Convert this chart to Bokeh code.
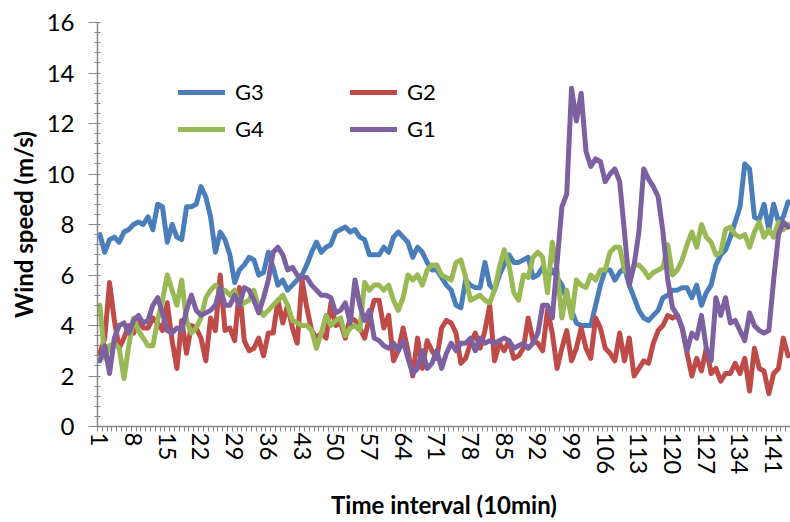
from bokeh.plotting import figure
from bokeh.models import Range1d, FixedTicker, SingleIntervalTicker, Legend, LegendItem
from bokeh.embed import file_html
from bokeh.resources import INLINE

# ---------------- data ----------------
time_idx = list(range(1, 145))

g3 = [7.6, 6.9, 7.4, 7.5, 7.3, 7.7, 7.8, 8.0, 8.1, 8.0, 8.3, 7.8, 8.8, 8.7, 7.3, 8.0, 7.5, 7.4, 8.7, 8.7,
      8.8, 9.5, 9.1, 8.3, 6.9, 7.7, 7.4, 6.8, 5.7, 6.2, 6.4, 6.7, 6.6, 6.0, 6.1, 6.9, 6.3, 5.6, 5.8, 5.4,
      5.6, 5.8, 6.0, 6.4, 6.9, 7.3, 6.9, 7.1, 7.2, 7.7, 7.8, 7.9, 7.7, 7.8, 7.5, 7.4, 6.8, 6.8, 6.8, 7.1,
      6.9, 7.5, 7.7, 7.5, 7.3, 6.7, 7.1, 6.9, 6.5, 6.2, 6.2, 5.9, 5.6, 5.4, 4.8, 4.7, 5.8, 5.6, 5.5, 5.5,
      6.5, 5.6, 5.4, 6.0, 6.4, 6.8, 6.5, 6.5, 6.6, 6.7, 5.9, 6.0, 6.3, 5.9, 6.2, 5.9, 5.6, 5.0, 4.6, 4.1,
      4.0, 4.0, 4.0, 4.8, 5.6, 6.2, 6.2, 5.8, 6.1, 6.3, 5.6, 5.1, 4.6, 4.3, 4.2, 4.4, 4.6, 5.1, 5.2, 5.4,
      5.4, 5.5, 5.5, 5.1, 5.6, 4.8, 5.3, 5.6, 6.4, 6.8, 7.0, 7.5, 8.1, 8.7, 10.4, 10.2, 8.3, 8.2, 8.8, 7.8,
      8.8, 8.1, 8.3, 8.9]

g2 = [2.9, 3.5, 5.7, 4.2, 3.1, 3.5, 4.0, 3.7, 4.2, 3.9, 3.9, 4.3, 4.1, 3.8, 4.9, 3.4, 2.3, 4.2, 2.9, 4.0,
      3.9, 3.5, 2.6, 4.3, 3.8, 6.0, 3.8, 3.9, 3.4, 5.5, 3.4, 3.0, 3.1, 3.5, 2.8, 3.7, 3.7, 5.0, 4.1, 4.8,
      3.9, 3.3, 5.8, 4.7, 3.8, 3.5, 3.7, 3.5, 4.9, 4.0, 4.1, 3.5, 4.3, 4.2, 3.9, 3.5, 4.3, 5.0, 5.0, 3.9,
      4.4, 2.6, 3.0, 3.9, 3.0, 2.0, 3.5, 2.3, 3.4, 3.0, 2.7, 3.9, 4.2, 4.1, 3.7, 2.5, 2.7, 3.3, 3.7, 3.1,
      3.8, 4.8, 2.6, 3.3, 3.0, 3.4, 2.7, 2.8, 3.1, 4.3, 3.4, 3.3, 3.0, 4.6, 3.7, 2.3, 3.1, 3.8, 2.6, 3.1,
      3.9, 3.1, 2.7, 4.3, 3.9, 3.1, 2.9, 2.6, 3.7, 2.6, 3.5, 2.0, 2.3, 2.6, 2.5, 3.3, 3.8, 4.0, 4.4, 4.3,
      4.4, 3.9, 2.9, 2.0, 2.7, 2.2, 3.1, 2.1, 2.3, 1.8, 2.1, 2.1, 2.5, 2.1, 2.7, 1.4, 3.1, 2.3, 2.2, 1.3,
      2.1, 2.3, 3.5, 2.8]

g4 = [4.8, 2.7, 3.2, 3.3, 3.1, 1.9, 3.2, 4.3, 3.8, 3.5, 3.2, 3.2, 4.2, 5.0, 6.0, 5.4, 4.8, 5.8, 4.2, 3.7,
      3.9, 4.3, 5.1, 5.4, 5.6, 5.4, 5.4, 5.2, 5.4, 4.8, 4.9, 5.0, 5.4, 4.7, 4.4, 4.6, 4.8, 5.0, 5.2, 4.8,
      4.2, 4.1, 4.0, 4.0, 3.8, 3.1, 3.7, 4.4, 4.0, 4.2, 4.3, 3.6, 3.9, 4.0, 3.8, 5.7, 5.4, 5.6, 5.6, 5.4,
      5.6, 5.0, 4.6, 5.1, 6.0, 5.8, 6.0, 5.6, 6.2, 6.4, 6.4, 6.0, 5.9, 5.8, 6.5, 6.6, 5.9, 5.0, 5.1, 5.2,
      5.0, 4.9, 5.4, 6.3, 7.0, 6.4, 5.3, 5.0, 6.0, 5.9, 6.7, 6.9, 6.7, 5.3, 7.3, 6.2, 4.3, 5.4, 4.3, 5.8,
      5.6, 5.5, 6.0, 5.8, 6.2, 6.2, 6.9, 7.1, 7.1, 6.2, 6.0, 6.4, 6.4, 6.2, 5.9, 6.1, 6.2, 6.3, 7.2, 6.0,
      6.2, 6.6, 7.2, 7.7, 7.1, 8.0, 7.5, 7.3, 6.8, 6.9, 7.8, 7.9, 7.6, 7.5, 7.6, 7.1, 7.7, 8.1, 7.5, 7.8,
      7.5, 8.1, 7.8, 8.0]

g1 = [2.6, 3.2, 2.1, 3.5, 4.0, 4.1, 3.7, 4.2, 4.4, 4.1, 4.2, 4.8, 5.1, 4.5, 3.8, 3.7, 3.9, 3.8, 4.6, 5.2,
      4.6, 4.4, 4.5, 4.6, 4.8, 5.5, 4.8, 4.8, 5.2, 4.8, 5.5, 5.4, 5.0, 4.5, 5.1, 5.8, 6.9, 7.1, 6.8, 6.2,
      6.3, 6.0, 5.9, 5.9, 5.6, 5.4, 5.2, 5.2, 5.1, 4.5, 4.6, 4.9, 4.1, 5.8, 4.8, 4.2, 4.6, 3.5, 3.4, 3.2,
      3.1, 3.3, 3.0, 3.4, 2.7, 2.1, 2.3, 3.0, 2.3, 2.5, 3.0, 2.3, 2.9, 3.3, 3.0, 3.3, 3.3, 3.5, 3.0, 3.5,
      3.3, 3.4, 3.3, 3.4, 3.5, 3.4, 3.1, 3.2, 3.3, 3.1, 3.3, 3.7, 4.8, 4.8, 4.3, 6.5, 8.7, 9.2, 13.4, 12.1,
      13.2, 10.9, 10.3, 10.6, 10.5, 9.7, 10.0, 10.2, 9.7, 7.7, 5.6, 6.4, 7.7, 10.2, 9.8, 9.5, 9.1, 7.7, 5.8, 4.7,
      4.4, 3.9, 3.0, 3.7, 3.5, 4.4, 3.1, 2.6, 5.1, 4.4, 5.1, 4.1, 4.2, 3.8, 3.4, 4.5, 4.0, 3.8, 3.7, 3.8,
      5.8, 7.6, 8.1, 7.9]

series_names = ["G3", "G2", "G4", "G1"]
series_colors = ["#4A7EBB", "#BE4B48", "#98B954", "#7D60A0"]

x_tick_labels = [1, 8, 15, 22, 29, 36, 43, 50, 57, 64, 71, 78, 85, 92, 99, 106, 113, 120, 127, 134, 141]
y_tick_step = 2
y_max = 16

FONT = "Lato"
AXIS_GRAY = "#868686"

# ---------------- figure ----------------
n = len(time_idx)
p = figure(width=790, height=522, output_backend="svg", toolbar_location=None,
           x_range=Range1d(0.5, n + 0.5), y_range=Range1d(0, y_max),
           min_border_left=97, min_border_right=0, min_border_top=22, min_border_bottom=96)
p.outline_line_color = None
p.xgrid.visible = False
p.ygrid.visible = False
p.background_fill_color = "white"
p.border_fill_color = "white"

renderers = []
for data, col in zip([g3, g2, g4, g1], series_colors):
    r = p.line(time_idx, data, line_width=5, line_color=col, line_join="round", line_cap="round")
    renderers.append(r)

# x axis (category style: ticks between categories)
p.xaxis.ticker = FixedTicker(ticks=x_tick_labels, minor_ticks=[t + 0.5 for t in range(0, n + 1)])
p.xaxis.major_tick_line_color = None
p.xaxis.major_tick_out = 5
p.xaxis.major_tick_in = 0
p.xaxis.minor_tick_out = 5
p.xaxis.minor_tick_in = 0
p.xaxis.minor_tick_line_color = AXIS_GRAY
p.xaxis.axis_line_color = AXIS_GRAY
p.xaxis.axis_line_width = 1.5
p.xaxis.major_label_orientation = "vertical"
p.xaxis.major_label_standoff = 1
p.xaxis.axis_label = "Time interval (10min)"
p.xaxis.axis_label_standoff = 13

# y axis
p.yaxis.ticker = SingleIntervalTicker(interval=y_tick_step, num_minor_ticks=5)
p.yaxis.axis_line_color = AXIS_GRAY
p.yaxis.axis_line_width = 1.5
p.yaxis.major_tick_line_color = AXIS_GRAY
p.yaxis.major_tick_out = 9
p.yaxis.major_tick_in = 0
p.yaxis.minor_tick_line_color = AXIS_GRAY
p.yaxis.minor_tick_out = 3
p.yaxis.minor_tick_in = 3
p.yaxis.major_label_standoff = 14
p.yaxis.axis_label = "Wind speed (m/s)"
p.yaxis.axis_label_standoff = 6

for ax in (p.xaxis, p.yaxis):
    ax.major_label_text_font = FONT
    ax.major_label_text_font_size = "24px"
    ax.major_label_text_color = "#000000"
    ax.axis_label_text_font = FONT
    ax.axis_label_text_font_size = "24px"
    ax.axis_label_text_font_style = "bold"
    ax.axis_label_text_color = "#000000"

# legend: two rows, two entries each
def make_legend(idx, loc):
    lg = Legend(items=[LegendItem(label=series_names[i], renderers=[renderers[i]]) for i in idx],
                orientation="horizontal", location=loc,
                glyph_width=47, glyph_height=20, label_height=20, label_width=115,
                label_standoff=10, spacing=0, padding=0, margin=0,
                border_line_color=None, background_fill_alpha=0,
                label_text_font=FONT, label_text_font_size="22px", label_text_color="#000000")
    return lg

p.add_layout(make_legend([0, 1], (81, 321)), "center")
p.add_layout(make_legend([2, 3], (81, 284)), "center")

open("out.html", "w").write(file_html(p, INLINE))
